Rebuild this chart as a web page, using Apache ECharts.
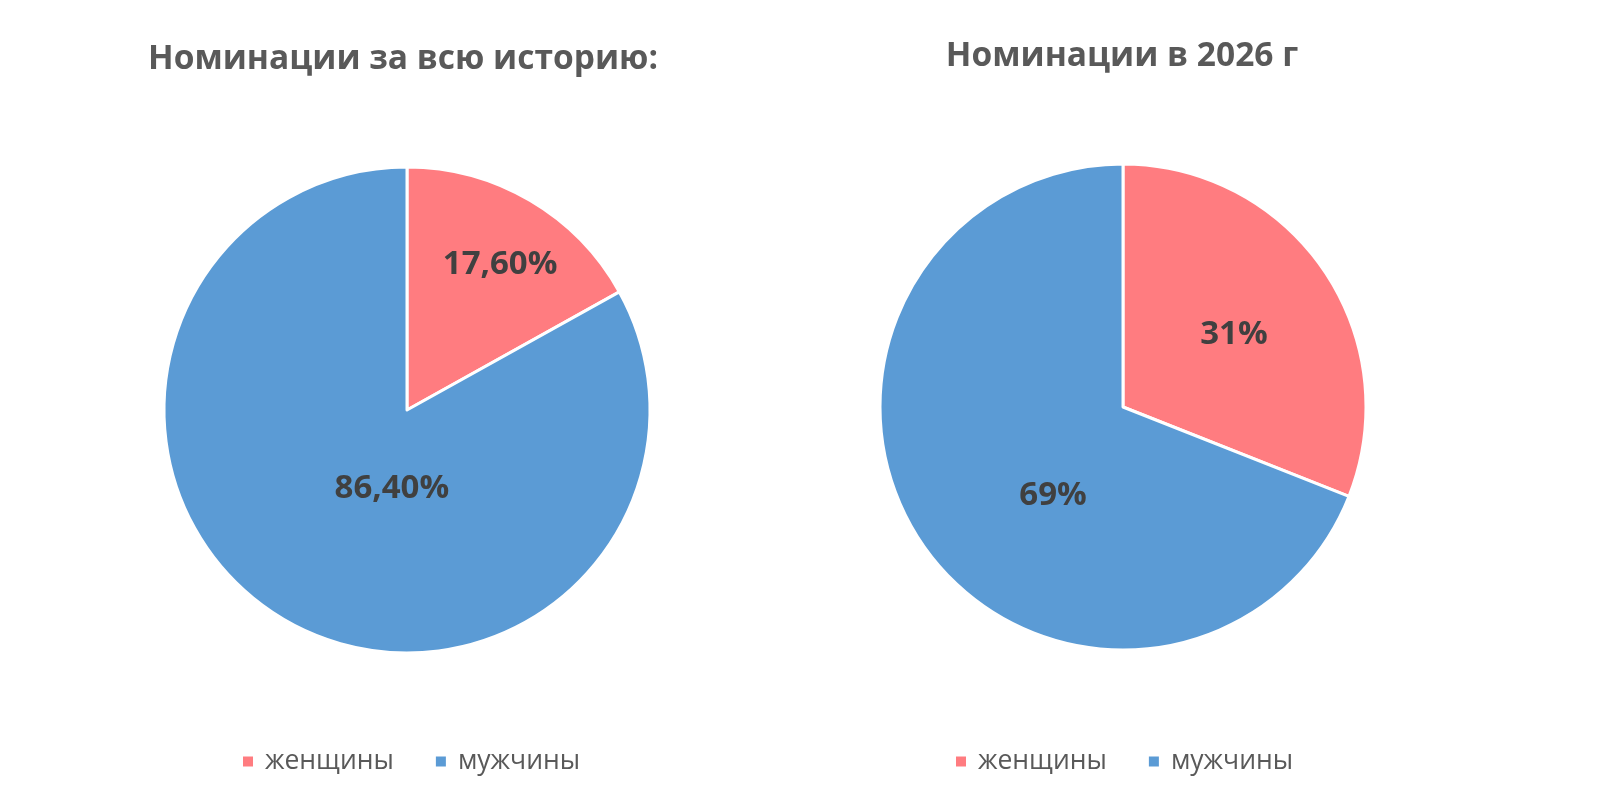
<!DOCTYPE html>
<html>
<head>
<meta charset="utf-8">
<script src="https://cdn.jsdelivr.net/npm/echarts@6/dist/echarts.min.js"></script>
<style>
  html, body { margin: 0; padding: 0; background: #fff; }
  #chart { width: 1600px; height: 800px; }
</style>
</head>
<body>
<div id="chart"></div>
<script>
// данные
var categories = ['женщины', 'мужчины'];
var totalValues = [17.6, 86.4];   // за всю историю (как на картинке, сумма 104)
var yearValues = [31, 69];        // 2026 г
var titles = ['Номинации за всю историю:', 'Номинации в 2026 г'];

var COLORS = ['#FF7C80', '#5B9BD5'];
var FONT = '"Open Sans", "Noto Sans", sans-serif';

function pct(decimals) {
    return function (p) {
        return p.value.toFixed(decimals).replace('.', ',') + '%';
    };
}

// смещения подписей как в Excel
var leftOffsets = [[30, -38], [48, -29]];
var rightOffsets = [[8, -2], [33, 19]];

function buildData(values, offsets) {
    var out = [];
    for (let i = 0; i < values.length; i++) {
        out.push({
            name: categories[i],
            value: values[i],
            label: { offset: offsets[i] }
        });
    }
    return out;
}

function pieSeries(center, values, offsets, decimals) {
    return {
        type: 'pie',
        center: center,
        radius: 243,
        startAngle: 90,
        clockwise: true,
        avoidLabelOverlap: false,
        silent: true,
        itemStyle: { borderColor: '#fff', borderWidth: 3 },
        label: {
            show: true,
            position: 'inside',
            formatter: pct(decimals),
            color: '#404040',
            fontFamily: FONT,
            fontWeight: 'bold',
            fontSize: 33
        },
        labelLine: { show: false },
        data: buildData(values, offsets)
    };
}

function legendAt(left) {
    return {
        data: categories,
        left: left,
        top: 748,
        padding: 0,
        icon: 'rect',
        itemWidth: 12,
        itemHeight: 12,
        itemGap: 40,
        selectedMode: false,
        textStyle: { color: '#595959', fontFamily: FONT, fontSize: 26.5, padding: [0, 0, 0, 6] }
    };
}

var chart = echarts.init(document.getElementById('chart'));
chart.setOption({
    backgroundColor: '#fff',
    color: COLORS,
    animation: false,
    title: [{
        text: titles[0], left: 398, top: 37, textAlign: 'center',
        textStyle: { color: '#595959', fontFamily: FONT, fontWeight: 'bold', fontSize: 33.5 }
    }, {
        text: titles[1], left: 1117, top: 34, textAlign: 'center',
        textStyle: { color: '#595959', fontFamily: FONT, fontWeight: 'bold', fontSize: 33.5 }
    }],
    legend: [legendAt(241), legendAt(954)],
    series: [
        pieSeries([407, 410], totalValues, leftOffsets, 2),
        pieSeries([1123, 407], yearValues, rightOffsets, 0)
    ]
});
</script>
</body>
</html>
